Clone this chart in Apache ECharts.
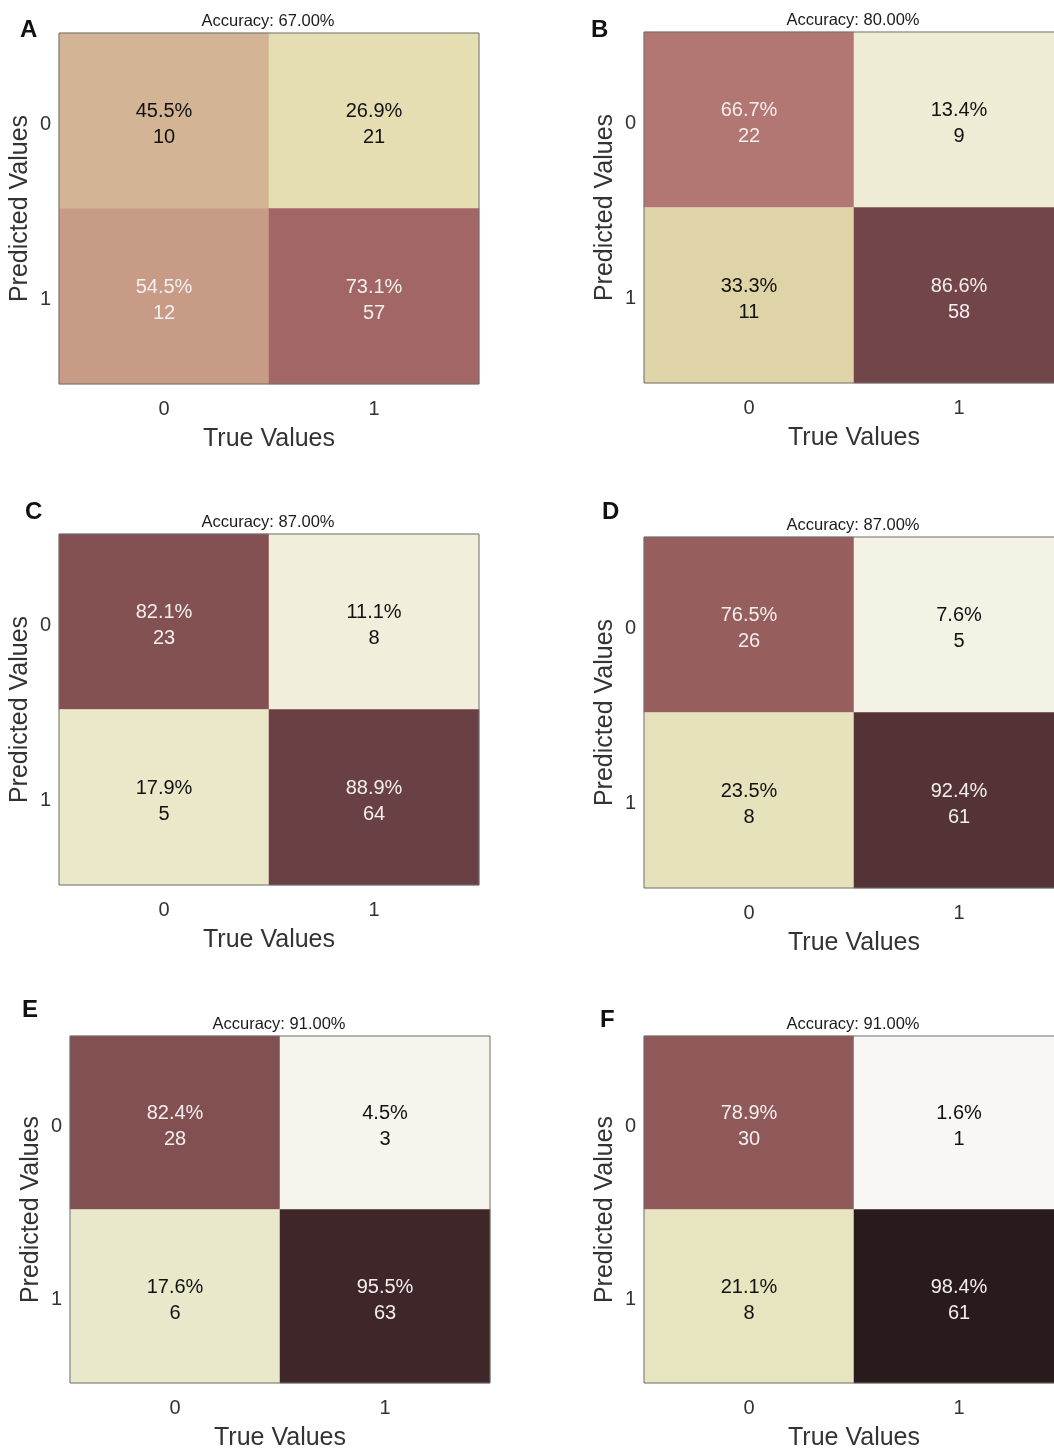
<!DOCTYPE html>
<html>
<head>
<meta charset="utf-8">
<script src="https://cdn.jsdelivr.net/npm/echarts@6/dist/echarts.min.js"></script>
<style>
html,body{margin:0;padding:0;background:#fff;overflow:hidden;}
#chart{width:1080px;height:1452px;}
</style>
</head>
<body>
<div id="chart"></div>
<script>
// ---- data ----
var panelLetters = ['A', 'B', 'C', 'D', 'E', 'F'];
var accuracies = ['67.00%', '80.00%', '87.00%', '87.00%', '91.00%', '91.00%'];
var trueCats = ['0', '1'];
var predCats = ['0', '1'];
// percentages per panel: [pred0/true0, pred0/true1, pred1/true0, pred1/true1]
var pctA = [45.5, 26.9, 54.5, 73.1];
var cntA = [10, 21, 12, 57];
var pctB = [66.7, 13.4, 33.3, 86.6];
var cntB = [22, 9, 11, 58];
var pctC = [82.1, 11.1, 17.9, 88.9];
var cntC = [23, 8, 5, 64];
var pctD = [76.5, 7.6, 23.5, 92.4];
var cntD = [26, 5, 8, 61];
var pctE = [82.4, 4.5, 17.6, 95.5];
var cntE = [28, 3, 6, 63];
var pctF = [78.9, 1.6, 21.1, 98.4];
var cntF = [30, 1, 8, 61];
var colorScale = ['#f9f9f8', '#f2efdf', '#e8e6c3', '#e3dbab', '#d8c59e', '#cea88e',
                  '#c08a7e', '#ad6d6d', '#8b5656', '#653d42', '#1e1314'];

var pcts = [pctA, pctB, pctC, pctD, pctE, pctF];
var cnts = [cntA, cntB, cntC, cntD, cntE, cntF];

// ---- layout ----
var grids = [
  {left: 59, top: 33}, {left: 644, top: 32},
  {left: 59, top: 534}, {left: 644, top: 537},
  {left: 70, top: 1036}, {left: 644, top: 1036}
];
var letterPos = [[15, 13], [586, 13], [20, 495], [597, 495], [17, 993], [595, 1003]];
var GW = 420, GH = 351;
var FONT = '"Liberation Sans", Arial, Helvetica, sans-serif';

var option = {
  animation: false,
  backgroundColor: '#ffffff',
  textStyle: {fontFamily: FONT},
  title: [],
  grid: [],
  xAxis: [],
  yAxis: [],
  visualMap: {
    show: false,
    type: 'continuous',
    min: 0,
    max: 100,
    dimension: 2,
    seriesIndex: [0, 1, 2, 3, 4, 5],
    inRange: {color: colorScale}
  },
  series: []
};

for (var i = 0; i < 6; i++) {
  var g = grids[i];
  option.grid.push({
    left: g.left, top: g.top, width: GW, height: GH,
    show: true, z: 5, borderColor: '#6e6e6e', borderWidth: 1,
    backgroundColor: 'transparent'
  });
  option.title.push({
    text: 'Accuracy: ' + accuracies[i],
    left: g.left + GW / 2 - 1,
    top: g.top - 20,
    padding: 0,
    textAlign: 'center',
    textStyle: {fontFamily: FONT, fontSize: 16.5, fontWeight: 'normal', color: '#1a1a1a'}
  });
  option.title.push({
    text: panelLetters[i],
    left: letterPos[i][0],
    top: letterPos[i][1],
    textStyle: {fontFamily: FONT, fontSize: 24, fontWeight: 'bold', color: '#111'}
  });
  option.xAxis.push({
    type: 'category', gridIndex: i, data: trueCats,
    name: 'True Values', nameLocation: 'middle', nameGap: 43,
    nameTextStyle: {fontFamily: FONT, fontSize: 25, color: '#333'},
    axisLine: {show: false}, axisTick: {show: false}, splitLine: {show: false},
    axisLabel: {fontFamily: FONT, fontSize: 20, color: '#333', margin: 15}
  });
  option.yAxis.push({
    type: 'category', gridIndex: i, data: predCats, inverse: true,
    name: 'Predicted Values', nameLocation: 'middle', nameGap: 26,
    nameTextStyle: {fontFamily: FONT, fontSize: 25, color: '#333'},
    axisLine: {show: false}, axisTick: {show: false}, splitLine: {show: false},
    axisLabel: {
      margin: 8,
      formatter: '{t|{value}}',
      rich: {t: {fontFamily: FONT, fontSize: 20, color: '#333', padding: [7, 0, 0, 0]}}
    }
  });
  var data = [];
  var p = pcts[i], c = cnts[i];
  var coords = [[0, 0], [1, 0], [0, 1], [1, 1]];
  for (var k = 0; k < 4; k++) {
    data.push({
      value: [coords[k][0], coords[k][1], p[k], c[k]],
      label: {color: p[k] > 50 ? '#f3eeee' : '#111111'}
    });
  }
  option.series.push({
    type: 'heatmap',
    xAxisIndex: i, yAxisIndex: i,
    z: 2,
    data: data,
    label: {
      show: true,
      fontFamily: FONT,
      fontSize: 20,
      lineHeight: 26,
      offset: [0, 4],
      formatter: function (prm) {
        return prm.value[2].toFixed(1) + '%\n' + prm.value[3];
      }
    },
    emphasis: {disabled: true}
  });
}

var chart = echarts.init(document.getElementById('chart'), null, {renderer: 'canvas'});
chart.setOption(option);
</script>
</body>
</html>
